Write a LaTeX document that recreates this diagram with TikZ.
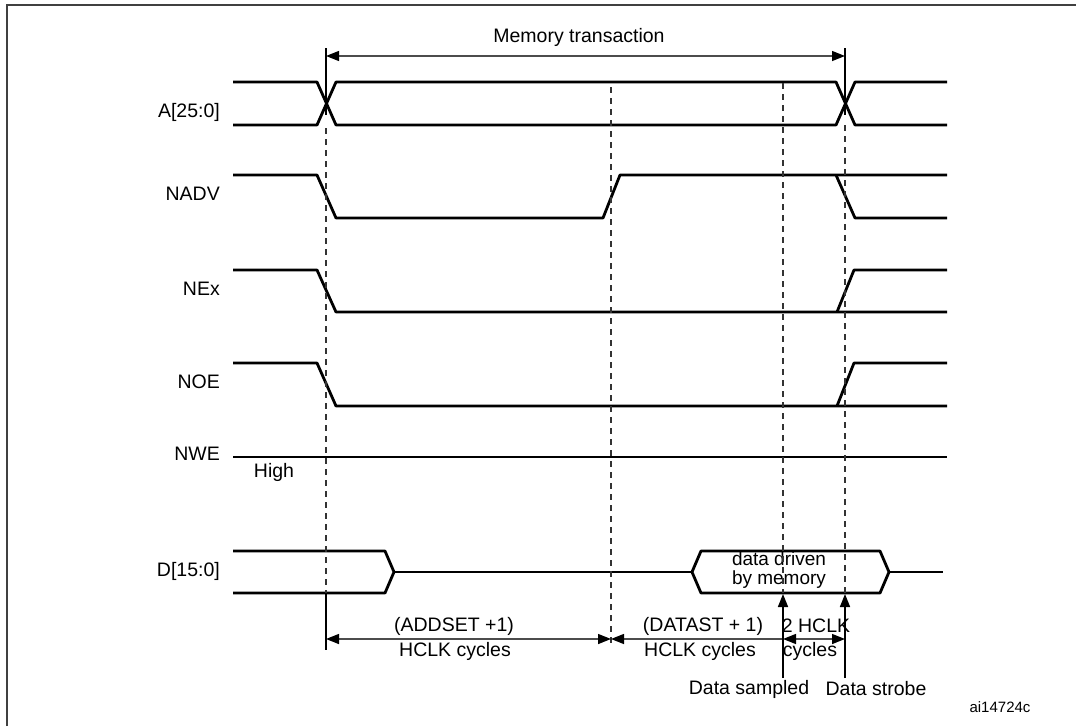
\documentclass[tikz,border=0pt]{standalone}
\usepackage{fontspec}
\setmainfont{Liberation Sans}
\usetikzlibrary{arrows.meta}
\begin{document}
\begin{tikzpicture}[x=1pt,y=-1pt,
  sig/.style={line width=2.8pt, line join=round},
  guide/.style={line width=1.7pt, black!80, dash pattern=on 6pt off 5pt},
  tick/.style={line width=1.6pt},
  tip/.tip={Triangle[length=13pt,width=10pt,color=black]},
  dimline/.style={line width=1.4pt, black!70},
  uparrow/.style={line width=1.6pt, -tip},
  lbl/.style={anchor=east, inner sep=0pt, font=\fontsize{19.5}{22}\selectfont},
  txt/.style={inner sep=0pt, font=\fontsize{19.5}{22}\selectfont},
  boxtxt/.style={inner sep=0pt, font=\fontsize{19}{19}\selectfont, align=center},
  small/.style={inner sep=0pt, font=\fontsize{15}{18}\selectfont}]
\useasboundingbox (0,0) rectangle (1076,726);
% frame (cropped)
\draw[line width=2.2pt, black!75] (7,726) -- (7,5) -- (1076,5);

% signal labels
\node[lbl] (lA) at (220,112) {A[25:0]};
\node[lbl] (lNADV) at (220,194) {NADV};
\node[lbl] (lNEx) at (220,289) {NEx};
\node[lbl] (lNOE) at (220,382) {NOE};
\node[lbl] (lNWE) at (220,454) {NWE};
\node[lbl] (lD) at (220,571) {D[15:0]};
\node[txt] (high) at (274,472) {High};

% A[25:0]
\draw[sig] (233,82) -- (317,82) -- (336,125) -- (836,125) -- (855,82) -- (947,82);
\draw[sig] (233,125) -- (317,125) -- (336,82) -- (836,82) -- (855,125) -- (947,125);
% NADV
\draw[sig] (233,175) -- (317,175) -- (336,218) -- (603,218) -- (620,175) -- (947,175);
\draw[sig] (836,175) -- (855,218) -- (947,218);
% NEx
\draw[sig] (233,270) -- (317,270) -- (336,312) -- (947,312);
\draw[sig] (837,312) -- (854,270) -- (947,270);
% NOE
\draw[sig] (233,363) -- (317,363) -- (336,406) -- (947,406);
\draw[sig] (837,406) -- (854,363) -- (947,363);
% NWE
\draw[sig] (233,457) -- (947,457);
% D[15:0]
\draw[sig] (233,551) -- (385,551) -- (394,572) -- (385,593) -- (233,593);
\draw[sig] (394,572) -- (692,572);
\draw[sig] (692,572) -- (701,551) -- (880,551) -- (889,572) -- (880,593) -- (701,593) -- cycle;
\draw[sig] (889,572) -- (943,572);
\node[boxtxt] (dd) at (779,570) {data driven\\by memory};

% marker coordinates
\coordinate (t1top) at (326,48);
\coordinate (t1x) at (326,115);
\coordinate (t4top) at (845,48);
\coordinate (t4x) at (845,115);
\coordinate (m1) at (326,56);
\coordinate (m4) at (845,56);

% guides
\draw[guide] (326,128) -- (326,593);
\draw[tick] (326,593) -- (326,650);
\draw[guide] (611,87) -- (611,645);
\draw[guide] (783,83) -- (783,593);
\draw[guide] (845,125) -- (845,593);

% memory transaction
\draw[tick] (t1top) -- (t1x);
\draw[tick] (t4top) -- (t4x);
\draw[dimline,tip-tip] (m1) -- (m4);
\node[txt] (mt) at (579,37) {Memory transaction};

% bottom dimension arrows
\coordinate (b1) at (326,639);
\coordinate (b2) at (611,639);
\coordinate (b3) at (783,639);
\coordinate (b4) at (845,639);
\draw[dimline,tip-tip] (b1) -- (b2);
\draw[dimline,tip-] (b2) -- (b3);
\draw[dimline,tip-tip] (b3) -- (b4);
\node[txt] (add1) at (454,626) {(ADDSET +1)};
\node[txt] (add2) at (455,651) {HCLK cycles};
\node[txt] (dat1) at (703,626) {(DATAST + 1)};
\node[txt] (dat2) at (700,651) {HCLK cycles};
\node[txt] (two1) at (816,626) {2 HCLK};
\node[txt] (two2) at (810,651) {cycles};

% sample / strobe arrows
\coordinate (s1) at (783,678);
\coordinate (s1t) at (783,594);
\coordinate (s2) at (845,678);
\coordinate (s2t) at (845,594);
\draw[uparrow] (s1) -- (s1t);
\draw[uparrow] (s2) -- (s2t);
\node[txt] (ds) at (749,689) {Data sampled};
\node[txt] (dst) at (876,689) {Data strobe};
\node[small] (ref) at (1000,707) {ai14724c};
\end{tikzpicture}
\end{document}
